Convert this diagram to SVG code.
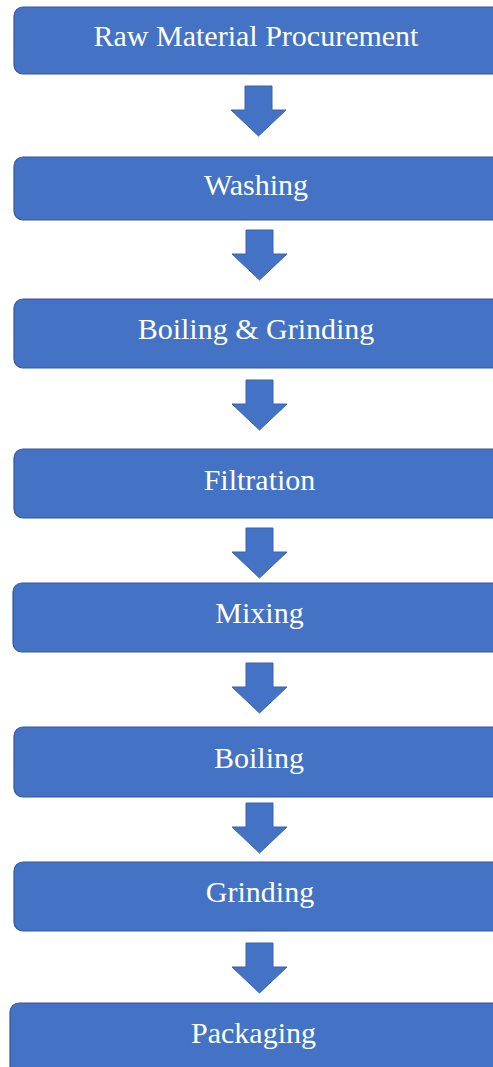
<svg xmlns="http://www.w3.org/2000/svg" width="493" height="1067" viewBox="0 0 493 1067">
<style>
.box{fill:#4472C4;stroke:#35599C;stroke-width:1.2}
.lbl{fill:#FFFFFF;font-family:'Liberation Serif',Tinos,'Times New Roman',Times,'DejaVu Serif',serif;font-size:30px;text-anchor:middle}
.arr{fill:#4472C4;stroke:#3A63AE;stroke-width:1}
</style>
<defs>
<path id="down" d="M-13.5,0 H13.5 V24 H27.5 L0,50 L-27.5,24 H-13.5 Z"/>
</defs>
<rect width="493" height="1067" fill="#FFFFFF"/>
<g id="n1"><rect class="box" x="14" y="7" width="500" height="67" rx="9"/><text class="lbl" x="256" y="46">Raw Material Procurement</text></g>
<g id="n2"><rect class="box" x="14" y="157" width="500" height="63" rx="9"/><text class="lbl" x="256" y="195">Washing</text></g>
<g id="n3"><rect class="box" x="14" y="299" width="500" height="69" rx="9"/><text class="lbl" x="256" y="339">Boiling &amp; Grinding</text></g>
<g id="n4"><rect class="box" x="14" y="449" width="500" height="69" rx="9"/><text class="lbl" x="259.5" y="490">Filtration</text></g>
<g id="n5"><rect class="box" x="13" y="583" width="500" height="69" rx="9"/><text class="lbl" x="259.5" y="623">Mixing</text></g>
<g id="n6"><rect class="box" x="14" y="727" width="500" height="70" rx="9"/><text class="lbl" x="259" y="768">Boiling</text></g>
<g id="n7"><rect class="box" x="14" y="862" width="500" height="69" rx="9"/><text class="lbl" x="260" y="902">Grinding</text></g>
<g id="n8"><rect class="box" x="10" y="1003" width="500" height="80" rx="9"/><text class="lbl" x="253.5" y="1043">Packaging</text></g>
<g id="connectors">
<use href="#down" class="arr" transform="translate(258.5,86)"/>
<use href="#down" class="arr" transform="translate(259.5,230)"/>
<use href="#down" class="arr" transform="translate(259.5,380)"/>
<use href="#down" class="arr" transform="translate(259.5,528)"/>
<use href="#down" class="arr" transform="translate(259.5,663)"/>
<use href="#down" class="arr" transform="translate(259.5,803)"/>
<use href="#down" class="arr" transform="translate(259.5,943)"/>
</g>
</svg>
